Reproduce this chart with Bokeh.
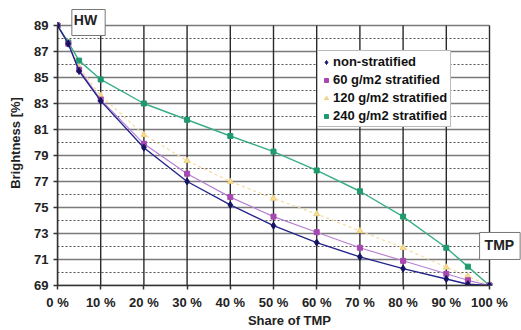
from bokeh.plotting import figure
from bokeh.models import FixedTicker, Legend, LegendItem, Label, Range1d
from bokeh.embed import file_html
from bokeh.resources import INLINE

# ---- data ----
share_tmp = [0, 2.5, 5, 10, 20, 30, 40, 50, 60, 70, 80, 90, 95, 100]
non_stratified = [89, 87.6, 85.5, 83.2, 79.6, 77.0, 75.2, 73.6, 72.3, 71.2, 70.3, 69.5, 69.1, 69]
strat_60 = [89, 87.6, 85.6, 83.3, 79.9, 77.6, 75.8, 74.3, 73.1, 71.9, 70.9, 69.9, 69.4, 69]
strat_120 = [89, 87.7, 85.8, 83.6, 80.6, 78.6, 77.0, 75.7, 74.5, 73.2, 71.9, 70.4, 69.7, 69]
strat_240 = [89, 87.7, 86.3, 84.85, 83.0, 81.75, 80.5, 79.3, 77.85, 76.25, 74.3, 71.9, 70.45, 69]

series_names = ["non-stratified", "60 g/m2 stratified", "120 g/m2 stratified", "240 g/m2 stratified"]
x_ticks = [0, 10, 20, 30, 40, 50, 60, 70, 80, 90, 100]
x_tick_labels = ["0 %", "10 %", "20 %", "30 %", "40 %", "50 %", "60 %", "70 %", "80 %", "90 %", "100 %"]
y_ticks = [69, 71, 73, 75, 77, 79, 81, 83, 85, 87, 89]
y_minor = [70, 72, 74, 76, 78, 80, 82, 84, 86, 88]

FONT = "Liberation Sans"
X_MIN, X_MAX = x_ticks[0], x_ticks[-1]
Y_MIN, Y_MAX = y_ticks[0], y_ticks[-1]

# frame is extended to the canvas top/right so the HW / TMP boxes are not clipped
p = figure(width=521, height=330, output_backend="svg", toolbar_location=None,
           x_range=Range1d(X_MIN, X_MAX * 464 / 432), y_range=Range1d(Y_MIN, Y_MAX + 25 / 13),
           min_border_left=57, min_border_right=0, min_border_top=0, min_border_bottom=45)
p.background_fill_color = "white"
p.border_fill_color = "white"
p.outline_line_color = None
p.xgrid.visible = False
p.ygrid.visible = False

# grid lines limited to the data area
n_minor = len(y_minor)
p.segment(x0=[X_MIN] * n_minor, x1=[X_MAX] * n_minor, y0=y_minor, y1=y_minor,
          line_color="#555555", line_width=1, line_dash="2 2")
n_y = len(y_ticks)
p.segment(x0=[X_MIN] * n_y, x1=[X_MAX] * n_y, y0=y_ticks, y1=y_ticks,
          line_color="#7a7a7a", line_width=1.6)
n_x = len(x_ticks)
p.segment(x0=x_ticks, x1=x_ticks, y0=[Y_MIN] * n_x, y1=[Y_MAX] * n_x,
          line_color="#2a2a2a", line_width=1.4)

# axes
p.xaxis.ticker = FixedTicker(ticks=x_ticks)
p.xaxis.major_label_overrides = {t: l for t, l in zip(x_ticks, x_tick_labels)}
p.yaxis.ticker = FixedTicker(ticks=y_ticks)
p.xaxis.bounds = (X_MIN, X_MAX)
p.yaxis.bounds = (Y_MIN, Y_MAX)
p.xaxis.axis_label = "Share of TMP"
p.yaxis.axis_label = "Brightness [%]"
for ax in (p.xaxis, p.yaxis):
    ax.axis_line_color = "#333333"
    ax.axis_line_width = 1.5
    ax.major_tick_line_color = "#333333"
    ax.major_tick_line_width = 1.5
    ax.major_tick_in = 0
    ax.major_tick_out = 4
    ax.minor_tick_line_color = None
    ax.major_label_text_font = FONT
    ax.major_label_text_font_style = "bold"
    ax.major_label_text_font_size = "13px"
    ax.major_label_text_color = "#222222"
    ax.axis_label_text_font = FONT
    ax.axis_label_text_font_style = "bold"
    ax.axis_label_text_font_size = "13px"
    ax.axis_label_text_color = "#222222"
p.xaxis.major_label_standoff = 5
p.xaxis.axis_label_standoff = 0
p.yaxis.major_label_standoff = 5
p.yaxis.axis_label_standoff = 8

# series
r_y_line = p.line(share_tmp, strat_120, line_color="#f4dc9c", line_width=1.2, line_dash="3 3")
r_y = p.scatter(share_tmp, strat_120, marker="triangle", size=6, fill_color="#f7dc94",
                line_color="#efcf7e")
r_g_line = p.line(share_tmp, strat_240, line_color="#3aae86", line_width=1.4)
r_g = p.scatter(share_tmp, strat_240, marker="square", size=5, fill_color="#1f9a6c",
                line_color="#1f9a6c")
r_p_line = p.line(share_tmp, strat_60, line_color="#b780d2", line_width=1.2)
r_p = p.scatter(share_tmp, strat_60, marker="square", size=5, fill_color="#a648b0",
                line_color="#a648b0")
r_n_line = p.line(share_tmp, non_stratified, line_color="#24248a", line_width=1.4)
r_n = p.scatter(share_tmp, non_stratified, marker="diamond", size=7, fill_color="#141460",
                line_color="#141460")

legend = Legend(items=[
    LegendItem(label=series_names[0], renderers=[r_n]),
    LegendItem(label=series_names[1], renderers=[r_p]),
    LegendItem(label=series_names[2], renderers=[r_y]),
    LegendItem(label=series_names[3], renderers=[r_g]),
], location=(260, 158))
legend.label_text_font = FONT
legend.label_text_font_style = "bold"
legend.label_text_font_size = "13px"
legend.label_text_color = "#111111"
legend.glyph_width = 10
legend.glyph_height = 14
legend.label_height = 14
legend.label_standoff = 2
legend.spacing = 3
legend.padding = 3
legend.margin = 0
legend.border_line_color = "#777777"
legend.border_line_width = 1
legend.background_fill_color = "white"
legend.background_fill_alpha = 1
p.add_layout(legend, "center")

# end-point boxes
p.add_layout(Label(x=7.18, y=89.23, text="HW", text_align="center", text_baseline="middle",
                   text_font=FONT, text_font_style="bold", text_font_size="14px",
                   text_color="#222222", padding=(2, 8, 2, 8), border_line_color="#777777",
                   background_fill_color="white"))
p.add_layout(Label(x=102.4, y=72.04, text="TMP", text_align="center", text_baseline="middle",
                   text_font=FONT, text_font_style="bold", text_font_size="14px",
                   text_color="#222222", padding=(5, 6, 5, 6), border_line_color="#777777",
                   background_fill_color="white"))

open("out.html", "w").write(file_html(p, INLINE))
